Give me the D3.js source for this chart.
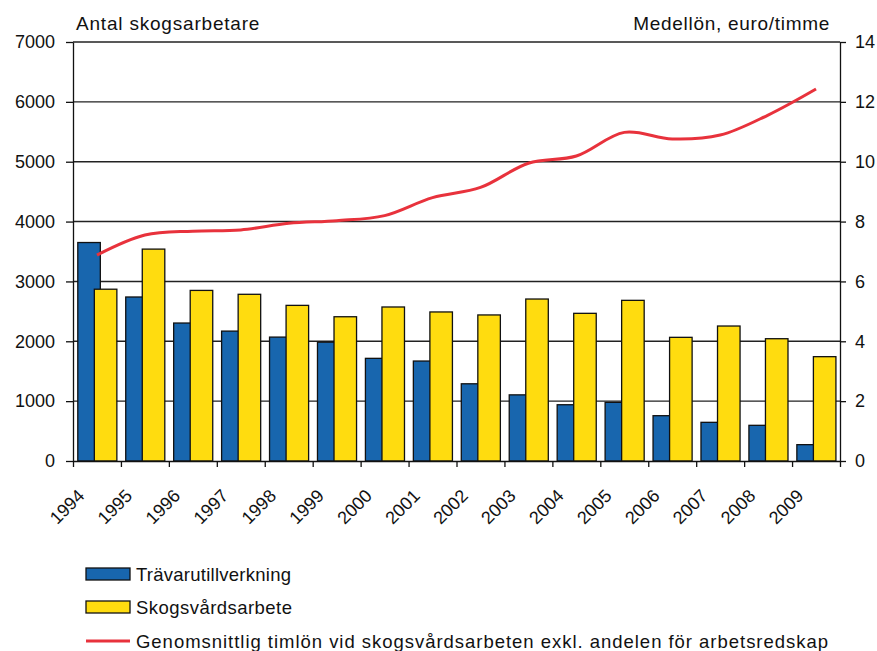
<!DOCTYPE html>
<html>
<head>
<meta charset="utf-8">
<script src="https://cdn.jsdelivr.net/npm/d3@7"></script>
<style>
  body { margin: 0; background: #fff; }
  svg { font-family: "Liberation Sans", Arial, sans-serif; }
  .axis path, .axis line { stroke: #111; stroke-width: 1.3; }
  .axis text { fill: #111; font-size: 18px; }
</style>
</head>
<body>
<div id="chart"></div>
<script>
'use strict';

// years shown on the x axis
const years = ['1994', '1995', '1996', '1997', '1998', '1999', '2000', '2001',
  '2002', '2003', '2004', '2005', '2006', '2007', '2008', '2009'];

// antal arbetare
const travaru = [3650, 2740, 2305, 2170, 2070, 1985, 1715, 1670,
  1290, 1105, 940, 980, 757, 646, 596, 273];
const skogsvard = [2870, 3540, 2850, 2785, 2600, 2410, 2573, 2490,
  2440, 2706, 2467, 2684, 2066, 2255, 2043, 1743];

// medellön euro/timme
const timlon = [6.88, 7.55, 7.68, 7.72, 7.94, 8.03, 8.2, 8.8,
  9.14, 9.95, 10.19, 10.98, 10.76, 10.89, 11.56, 12.43];

const leftTicks = [0, 1000, 2000, 3000, 4000, 5000, 6000, 7000];
const rightTicks = [0, 2, 4, 6, 8, 10, 12, 14];

const legendLabels = ['Trävarutillverkning', 'Skogsvårdsarbete',
  'Genomsnittlig timlön vid skogsvårdsarbeten exkl. andelen för arbetsredskap'];

function drawChart(elementID) {
  const width = 877;
  const height = 651;
  const left = 73, right = 840, top = 42, bottom = 461;

  const svg = d3.select('#' + elementID)
    .append('svg')
    .attr('width', width)
    .attr('height', height);

  const x = d3.scaleBand()
    .domain(years)
    .range([left, right]);
  const xTick = d3.scaleLinear()
    .domain([0, years.length])
    .range([left, right]);

  const yLeft = d3.scaleLinear().domain([0, 7000]).range([bottom, top]);
  const yRight = d3.scaleLinear().domain([0, 14]).range([bottom, top]);

  // gridlines
  svg.append('g')
    .selectAll('line')
    .data(leftTicks.filter(d => d > 0))
    .enter()
    .append('line')
    .attr('x1', left)
    .attr('x2', right)
    .attr('y1', d => yLeft(d))
    .attr('y2', d => yLeft(d))
    .attr('stroke', '#222')
    .attr('stroke-width', 1.4);

  const bw = x.bandwidth();
  const barW = bw * 0.47;

  // blå staplar
  svg.append('g')
    .selectAll('rect')
    .data(travaru)
    .enter()
    .append('rect')
    .attr('x', (d, i) => x(years[i]) + bw * 0.1)
    .attr('y', d => yLeft(d))
    .attr('width', barW)
    .attr('height', d => bottom - yLeft(d))
    .attr('fill', '#1866ae')
    .attr('stroke', '#111')
    .attr('stroke-width', 1.3);

  // gula staplar
  svg.append('g')
    .selectAll('rect')
    .data(skogsvard)
    .enter()
    .append('rect')
    .attr('x', (d, i) => x(years[i]) + bw * 0.445)
    .attr('y', d => yLeft(d))
    .attr('width', barW)
    .attr('height', d => bottom - yLeft(d))
    .attr('fill', '#ffdc0f')
    .attr('stroke', '#111')
    .attr('stroke-width', 1.3);

  // linje
  const line = d3.line()
    .x((d, i) => x(years[i]) + bw / 2)
    .y(d => yRight(d))
    .curve(d3.curveCatmullRom.alpha(0.5));

  svg.append('path')
    .datum(timlon)
    .attr('d', line)
    .attr('fill', 'none')
    .attr('stroke', '#e8323c')
    .attr('stroke-width', 3);

  // axlar
  svg.append('g')
    .attr('class', 'axis')
    .attr('transform', `translate(${left}, 0)`)
    .call(d3.axisLeft(yLeft).tickValues(leftTicks).tickFormat(d3.format('d'))
      .tickSize(7).tickSizeOuter(0).tickPadding(11));

  svg.append('g')
    .attr('class', 'axis')
    .attr('transform', `translate(${right}, 0)`)
    .call(d3.axisRight(yRight).tickValues(rightTicks).tickFormat(d3.format('d'))
      .tickSize(6).tickSizeOuter(0).tickPadding(9));

  const xAxis = svg.append('g')
    .attr('class', 'axis')
    .attr('transform', `translate(0, ${bottom})`)
    .call(d3.axisBottom(xTick)
      .tickValues(d3.range(years.length + 1))
      .tickSize(6)
      .tickSizeOuter(0)
      .tickFormat(i => years[i] || ''));

  xAxis.selectAll('text')
    .attr('text-anchor', 'end')
    .attr('font-size', 17)
    .attr('dy', 0)
    .attr('y', 0)
    .attr('transform', 'translate(12, 36) rotate(-45)');

  // axeltitlar
  svg.append('text')
    .attr('x', 76)
    .attr('y', 30)
    .attr('font-size', 19)
    .attr('letter-spacing', 0.8)
    .attr('fill', '#111')
    .text('Antal skogsarbetare');

  svg.append('text')
    .attr('x', 830)
    .attr('y', 30)
    .attr('text-anchor', 'end')
    .attr('font-size', 19)
    .attr('letter-spacing', 0.7)
    .attr('fill', '#111')
    .text('Medellön, euro/timme');

  // legend
  const legendY = [574, 607, 641];
  const legendW = [155, 156, 692];
  const legend = svg.append('g')
    .selectAll('g')
    .data(legendLabels)
    .enter()
    .append('g')
    .attr('transform', (d, i) => `translate(86, ${legendY[i]})`);

  legend.filter((d, i) => i < 2)
    .append('rect')
    .attr('x', 0)
    .attr('y', -6)
    .attr('width', 44)
    .attr('height', 12)
    .attr('fill', (d, i) => i === 0 ? '#1866ae' : '#ffdc0f')
    .attr('stroke', '#111')
    .attr('stroke-width', 1.3);

  legend.filter((d, i) => i === 2)
    .append('line')
    .attr('x1', 0)
    .attr('x2', 44)
    .attr('stroke', '#e8323c')
    .attr('stroke-width', 3);

  legend.append('text')
    .attr('x', 50)
    .attr('y', 7)
    .attr('font-size', 18.5)
    .attr('fill', '#111')
    .attr('textLength', (d, i) => legendW[i])
    .attr('lengthAdjust', 'spacing')
    .text(d => d);
}

drawChart('chart');
</script>
</body>
</html>
